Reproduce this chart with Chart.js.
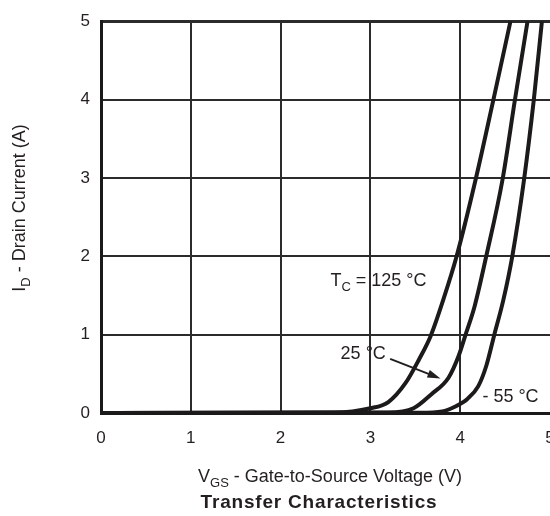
<!DOCTYPE html>
<html lang="en">
<head>
    <meta charset="UTF-8">
    <title>Transfer Characteristics</title>
    <script src="https://cdn.jsdelivr.net/npm/chart.js"></script>
    <style>
        html, body {
            margin: 0;
            padding: 0;
            overflow: hidden;
            background: #fff;
        }

        .chart-box {
            width: 550px;
            height: 516px;
        }
    </style>
</head>
<body>
    <div class="chart-box">
        <canvas id="transferChart"></canvas>
    </div>

    <script>
        // Curvas (VGS en V, ID en A)
        var vgs125 = [0, 2.6, 3.0, 3.2, 3.39, 3.54, 3.67, 3.81, 3.96, 4.17, 4.37, 4.56];
        var id125  = [0, 0.005, 0.06, 0.14, 0.38, 0.68, 0.98, 1.44, 2.0, 2.97, 4.0, 5.0];

        var vgs25 = [0, 3.2, 3.48, 3.68, 3.87, 3.98, 4.06, 4.16, 4.29, 4.47, 4.61, 4.75];
        var id25  = [0, 0.005, 0.06, 0.24, 0.45, 0.72, 1.0, 1.36, 2.0, 2.97, 4.0, 5.0];

        var vgsM55 = [0, 3.55, 3.8, 3.94, 4.08, 4.2, 4.29, 4.38, 4.48, 4.58, 4.71, 4.82, 4.91];
        var idM55  = [0, 0.003, 0.02, 0.08, 0.18, 0.34, 0.6, 1.0, 1.44, 2.0, 2.97, 4.0, 5.0];

        var xTicks = [0, 1, 2, 3, 4, 5];
        var yTicks = [0, 1, 2, 3, 4, 5];

        var FONT = '"Liberation Sans", Arial, sans-serif';

        function toPoints(xs, ys) {
            var pts = [];
            for (var i = 0; i < xs.length; i++) {
                pts.push({ x: xs[i], y: ys[i] });
            }
            return pts;
        }

        function curve(xs, ys) {
            return {
                data: toPoints(xs, ys),
                borderColor: '#1c1a1a',
                borderWidth: 4,
                pointRadius: 0,
                fill: false,
                cubicInterpolationMode: 'monotone'
            };
        }

        // texto con subíndice: partes [texto, esSub]
        function drawSubText(ctx, parts, x, y, size, align) {
            var subSize = Math.round(size * 0.72);
            var total = 0;
            parts.forEach(function(p) {
                ctx.font = (p[1] ? subSize : size) + 'px ' + FONT;
                total += ctx.measureText(p[0]).width;
            });
            var cx = align === 'center' ? x - total / 2 : x;
            ctx.textAlign = 'left';
            ctx.textBaseline = 'alphabetic';
            parts.forEach(function(p) {
                ctx.font = (p[1] ? subSize : size) + 'px ' + FONT;
                ctx.fillText(p[0], cx, p[1] ? y + size * 0.3 : y);
                cx += ctx.measureText(p[0]).width;
            });
        }

        var textPlugin = {
            id: 'textPlugin',
            afterDraw: function(chart) {
                var ctx = chart.ctx;
                var xs = chart.scales.x;
                var ys = chart.scales.y;
                ctx.save();
                ctx.fillStyle = '#231f20';

                // títulos de ejes
                drawSubText(ctx, [['V', false], ['GS', true], [' - Gate-to-Source Voltage (V)', false]], 330, 482, 18, 'center');

                ctx.font = 'bold 19px ' + FONT;
                ctx.letterSpacing = '0.8px';
                ctx.textAlign = 'center';
                ctx.textBaseline = 'alphabetic';
                ctx.fillText('Transfer Characteristics', 319, 508);
                ctx.letterSpacing = '0px';

                ctx.save();
                ctx.translate(25, 208);
                ctx.rotate(-Math.PI / 2);
                drawSubText(ctx, [['I', false], ['D', true], [' - Drain Current (A)', false]], 0, 0, 18, 'center');
                ctx.restore();

                // etiquetas de temperatura
                drawSubText(ctx, [['T', false], ['C', true], [' = 125 °C', false]], xs.getPixelForValue(3.09), ys.getPixelForValue(1.62), 18, 'center');
                ctx.font = '18px ' + FONT;
                ctx.textAlign = 'center';
                ctx.fillText('25 °C', xs.getPixelForValue(2.92), ys.getPixelForValue(0.69));
                ctx.fillText('- 55 °C', xs.getPixelForValue(4.56), ys.getPixelForValue(0.145));

                // flecha 25 °C
                var x0 = xs.getPixelForValue(3.22), y0 = ys.getPixelForValue(0.69);
                var x1 = xs.getPixelForValue(3.78), y1 = ys.getPixelForValue(0.44);
                var ang = Math.atan2(y1 - y0, x1 - x0);
                ctx.strokeStyle = '#231f20';
                ctx.lineWidth = 2;
                ctx.beginPath();
                ctx.moveTo(x0, y0);
                ctx.lineTo(x1 - 8 * Math.cos(ang), y1 - 8 * Math.sin(ang));
                ctx.stroke();
                ctx.beginPath();
                ctx.moveTo(x1, y1);
                ctx.lineTo(x1 - 13 * Math.cos(ang) + 4 * Math.sin(ang), y1 - 13 * Math.sin(ang) - 4 * Math.cos(ang));
                ctx.lineTo(x1 - 13 * Math.cos(ang) - 4 * Math.sin(ang), y1 - 13 * Math.sin(ang) + 4 * Math.cos(ang));
                ctx.closePath();
                ctx.fill();
                ctx.restore();
            }
        };

        new Chart(document.getElementById('transferChart'), {
            type: 'line',
            data: {
                datasets: [curve(vgs125, id125), curve(vgs25, id25), curve(vgsM55, idM55)]
            },
            options: {
                responsive: true,
                maintainAspectRatio: false,
                animation: false,
                layout: { padding: { left: 0, top: 21, right: 0, bottom: 0 } },
                plugins: {
                    legend: { display: false },
                    tooltip: { enabled: false }
                },
                scales: {
                    x: {
                        type: 'linear',
                        min: 0,
                        max: 5,
                        afterFit: function(scale) {
                            scale.height = 103;
                            scale.paddingLeft = 0;
                            scale.paddingRight = 0;
                        },
                        afterBuildTicks: function(scale) {
                            scale.ticks = xTicks.map(function(v) { return { value: v }; });
                        },
                        grid: {
                            color: function(ctx) { return ctx.tick && ctx.tick.value === 5 ? 'rgba(0,0,0,0)' : '#2b2b2b'; },
                            lineWidth: 2,
                            drawTicks: false
                        },
                        border: { color: '#1a1a1a', width: 3 },
                        ticks: { color: '#231f20', padding: 15, font: { family: FONT, size: 17 } }
                    },
                    y: {
                        min: 0,
                        max: 5,
                        afterFit: function(scale) { scale.width = 101; },
                        afterBuildTicks: function(scale) {
                            scale.ticks = yTicks.map(function(v) { return { value: v }; });
                        },
                        grid: {
                            color: '#2b2b2b',
                            lineWidth: function(ctx) { return ctx.tick && ctx.tick.value === 5 ? 3 : 2; },
                            drawTicks: false
                        },
                        border: { color: '#1a1a1a', width: 3 },
                        ticks: { color: '#231f20', padding: 11, font: { family: FONT, size: 17 } }
                    }
                }
            },
            plugins: [textPlugin]
        });
    </script>
</body>
</html>
